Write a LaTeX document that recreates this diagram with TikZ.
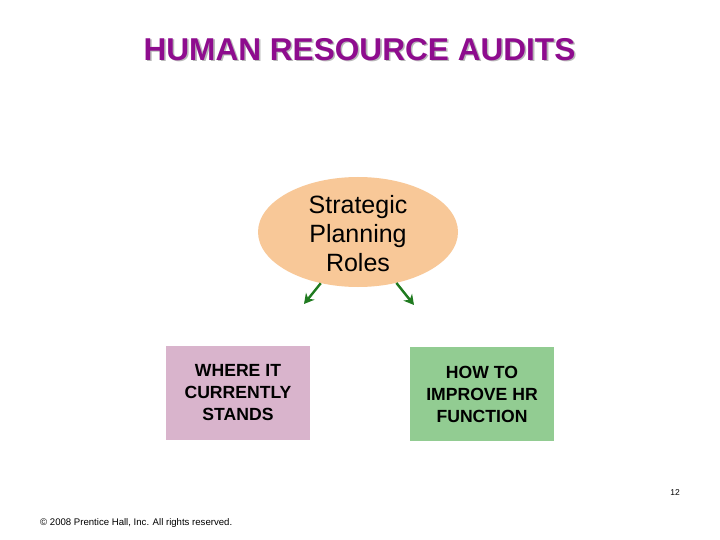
\documentclass[tikz,border=0pt]{standalone}
\usepackage{fontspec}
\setmainfont{Liberation Sans}
\usetikzlibrary{shapes.geometric,arrows.meta}
\definecolor{titlepurple}{HTML}{8E0C8E}
\definecolor{titleshadow}{HTML}{B8B8B8}
\definecolor{peach}{HTML}{F8C898}
\definecolor{mauve}{HTML}{D9B4CC}
\definecolor{leaf}{HTML}{92CC92}
\definecolor{arrowgreen}{HTML}{1F7A1F}
\newcommand{\titletext}{HUMAN RESOURCE AUDITS}
\tikzset{
  boxnode/.style={rectangle, minimum width=144pt, minimum height=94pt, align=center, font=\fontsize{17.6}{22}\selectfont\bfseries, inner sep=0pt},
  greenarrow/.style={draw=arrowgreen, line width=2.4pt, -{Stealth[length=10pt,width=11pt]}}
}
\begin{document}
\begin{tikzpicture}[x=1pt,y=-1pt]
\useasboundingbox (0,0) rectangle (720,540);
\fill[white] (0,0) rectangle (720,540);
% title with shadow
\node (title) [font=\fontsize{31.6}{36}\selectfont\bfseries, inner sep=0pt] at (359.5,50)
  {\makebox[0pt][l]{\hspace{1.6pt}\raisebox{-1.6pt}{\textcolor{titleshadow}{\titletext}}}\textcolor{titlepurple}{\titletext}};
% ellipse
\node (ell) [ellipse, fill=peach, minimum width=200pt, minimum height=110pt, inner sep=0pt] at (358,232) {};
\node (elltext) [align=center, font=\fontsize{25}{29}\selectfont, inner sep=0pt] at (358,234) {Strategic\\Planning\\Roles};
% boxes
\node (left) [boxnode, fill=mauve] at (238,393) {WHERE IT\\CURRENTLY\\STANDS};
\node (right) [boxnode, fill=leaf] at (482,394) {HOW TO\\IMPROVE HR\\FUNCTION};
% arrows
\coordinate (la) at (304,304);
\coordinate (ra) at (414,305);
\draw[greenarrow] (ell.234) -- (la);
\draw[greenarrow] (ell.307) -- (ra);
% footer
\node (pg) [font=\fontsize{8.5}{10}\selectfont] at (675,493) {12};
\node (copy) [anchor=west, font=\fontsize{9.6}{11}\selectfont, inner sep=0pt] at (40,523) {© 2008 Prentice Hall, Inc. All rights reserved.};
\end{tikzpicture}
\end{document}
